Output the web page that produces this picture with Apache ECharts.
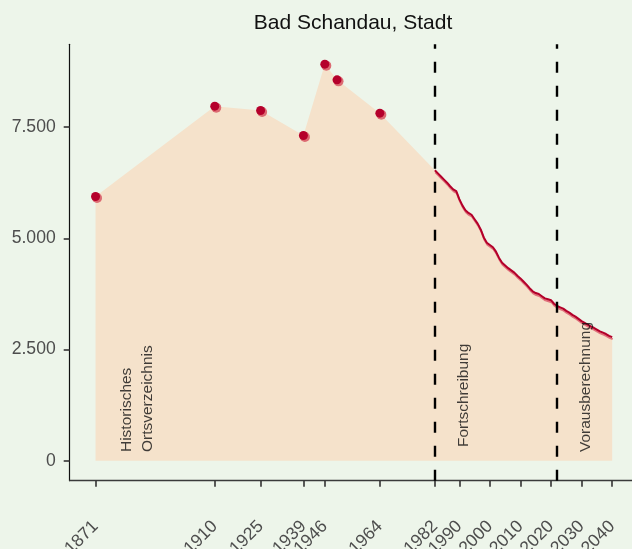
<!DOCTYPE html>
<html>
<head>
<meta charset="utf-8">
<script src="https://cdn.jsdelivr.net/npm/echarts@6/dist/echarts.min.js"></script>
<style>
  html, body { margin: 0; padding: 0; background: #edf5ea; }
  #chart { width: 632px; height: 549px; }
</style>
</head>
<body>
<div id="chart"></div>
<script>
// Historisches Ortsverzeichnis
const histYears = [1871, 1910, 1925, 1939, 1946, 1950, 1964];
const histValues = [5940, 7970, 7873, 7311, 8914, 8561, 7813];

// Fortschreibung + Vorausberechnung, jährlich ab 1982
const startYear = 1982;
const annualValues = [
    6530, 6460, 6390, 6320, 6250, 6170, 6100, 6060, 5880, 5740,
    5630, 5570, 5530, 5430, 5330, 5200, 5020, 4900, 4850, 4800,
    4700, 4560, 4450, 4390, 4330, 4280, 4230, 4160, 4100, 4030,
    3960, 3880, 3810, 3770, 3750, 3700, 3650, 3630, 3610, 3530,
    3480, 3450, 3420, 3370, 3330, 3280, 3240, 3190, 3140, 3100,
    3060, 3020, 2990, 2950, 2910, 2880, 2850, 2810, 2780
];

const tickYears = [1871, 1910, 1925, 1939, 1946, 1964, 1982, 1990, 2000, 2010, 2020, 2030, 2040];
const yTicks = [0, 2500, 5000, 7500];
const periodBreaks = [1982, 2022];

// Beschriftungen der Zeitabschnitte: [Jahr, Wert, Text]
const notes = [
    [1884.7, 198, 'Historisches\nOrtsverzeichnis'],
    [1991.3, 310, 'Fortschreibung'],
    [2031.4, 198, 'Vorausberechnung']
];

const annualData = annualValues.map((v, i) => [startYear + i, v]);
const histData = histYears.map((y, i) => [y, histValues[i]]);
const areaData = histData.concat(annualData);

function fmt(v) {
    return String(v).replace(/\B(?=(\d{3})+(?!\d))/g, '.');
}

const font = 'Liberation Sans, Arial, sans-serif';
let myChart = echarts.init(document.getElementById('chart'));
myChart.setOption({
    backgroundColor: '#edf5ea',
    animation: false,
    title: {
        text: 'Bad Schandau, Stadt',
        left: 348,
        top: 8,
        textAlign: 'center',
        textStyle: { fontFamily: font, fontSize: 21, fontWeight: 'normal', color: '#111' }
    },
    grid: { left: 69.7, right: -6, top: 44.3, bottom: 68.3, containLabel: false, outerBoundsMode: 'none' },
    xAxis: {
        type: 'value',
        min: 1862.55,
        max: 2048.45,
        splitLine: { show: false },
        axisLine: { onZero: false, lineStyle: { color: '#3a3a3a', width: 1.3 } },
        axisTick: { customValues: tickYears, length: 6, lineStyle: { color: '#333', width: 1.6 } },
        axisLabel: {
            customValues: tickYears,
            formatter: v => String(v),
            rotate: 45,
            margin: 43,
            fontFamily: font,
            fontSize: 17.6,
            color: '#4d4d4d'
        }
    },
    yAxis: {
        type: 'value',
        min: -446,
        max: 9360,
        splitLine: { show: false },
        axisLine: { show: true, lineStyle: { color: '#111', width: 1.2 } },
        axisTick: { show: true, customValues: yTicks, length: 6, lineStyle: { color: '#333', width: 1.6 } },
        axisLabel: {
            customValues: yTicks,
            margin: 14,
            formatter: fmt,
            fontFamily: font,
            fontSize: 17.6,
            color: '#4d4d4d'
        }
    },
    series: [
        {
            type: 'line',
            z: 1,
            data: areaData,
            showSymbol: false,
            lineStyle: { width: 0, opacity: 0 },
            areaStyle: { color: '#f5e2cb', opacity: 1 },
            silent: true,
            markLine: {
                symbol: 'none',
                silent: true,
                label: { show: false },
                lineStyle: { color: '#000', width: 2.4, type: [11, 13] },
                data: periodBreaks.map(y => ({ xAxis: y }))
            }
        },
        {
            type: 'line',
            z: 4,
            data: annualData,
            showSymbol: false,
            lineStyle: {
                color: '#b3002a',
                width: 2,
                shadowColor: '#e0717b',
                shadowOffsetY: 2,
                shadowOffsetX: 0.5,
                shadowBlur: 0
            }
        },
        {
            type: 'scatter',
            z: 5,
            data: histData,
            symbolSize: 10,
            symbolOffset: [1.5, 1.5],
            itemStyle: { color: '#dc6a72', opacity: 1 }
        },
        {
            type: 'scatter',
            z: 6,
            data: histData,
            symbolSize: 9,
            itemStyle: { color: '#b5002b', opacity: 1 }
        },
        {
            type: 'scatter',
            z: 7,
            data: notes.map(n => [n[0], n[1]]),
            symbolSize: 1,
            silent: true,
            itemStyle: { color: 'rgba(0,0,0,0)' },
            label: {
                show: true,
                position: 'inside',
                rotate: 90,
                align: 'left',
                verticalAlign: 'middle',
                lineHeight: 21.6,
                fontFamily: font,
                fontSize: 15.5,
                color: '#111',
                formatter: p => notes[p.dataIndex][2]
            },
            labelLayout: { hideOverlap: false }
        }
    ]
});
</script>
</body>
</html>
